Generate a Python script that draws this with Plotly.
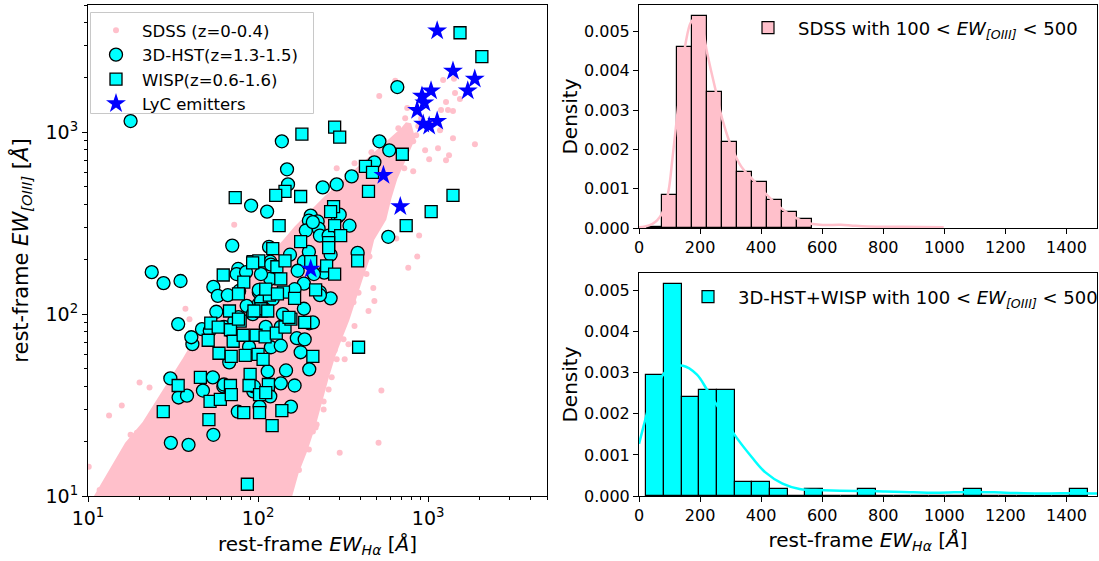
import numpy as np
import plotly.graph_objects as go

# ---------------- data ----------------
# SDSS dense-cloud outline (EW_Halpha, EW_[OIII]) in Angstrom
sdss_env_x = [11.0, 12.6, 14.4, 17.1, 21.5, 25.6, 30.2, 36.9, 42.3, 48.3, 55.3, 67.7, 82.8, 98.6,
              116, 142, 169, 204, 253, 318, 390, 476, 583, 714, 764, 805, 714, 633, 583, 546,
              464, 434, 395, 364, 331, 302, 275, 250, 231, 210, 188, 167, 150]
sdss_env_y = [9.5, 11.9, 14.8, 19.2, 24.7, 31.8, 41.0, 54.9, 68.2, 82.6, 100, 121, 146, 173,
              201, 244, 295, 357, 432, 522, 617, 736, 869, 1026, 1107, 927, 718, 557, 432, 335,
              260, 201, 156, 121, 93.8, 75.5, 60.1, 44.9, 33.9, 24.7, 18.0, 13.6, 9.5]
# SDSS individual (sparser) galaxies
sdss_x = [1225, 1419, 1439, 1538, 1274, 1191, 1309, 1400, 1175, 1400,
          1884, 1327, 1274, 1014, 960, 668, 753, 516, 641, 733,
          695, 817, 851, 910, 464, 290, 369, 608, 724, 817,
          633, 875, 935, 1069, 1143, 885, 863, 764, 483, 464,
          452, 434, 379, 345, 390, 476, 483, 364, 446, 369,
          282, 531, 511, 302, 221, 218, 210, 154, 140, 204,
          72.4, 37.4, 39.5, 46.4, 20.1, 23.0, 15.8, 13.3, 10.1, 17.8,
          19.4, 650, 340, 323, 260, 243, 15.4, 11.7, 18.8,
          23.0, 28.2, 34.5, 40.5, 174, 199, 221, 243, 271, 290, 318]
sdss_y = [1936, 1963, 1641, 1521, 1466, 1324, 1324, 1306, 1026, 927,
          859, 746, 700, 709, 796, 1052, 1358, 1581, 1914, 1194,
          927, 891, 962, 1194, 776, 633, 674, 674, 633, 609,
          609, 1079, 1393, 1122, 816, 270, 207, 180, 306, 266,
          207, 166, 146, 145, 131, 139, 118, 116, 104, 85.9,
          63.2, 38.0, 19.6, 17.3, 31.0, 23.8, 22.6, 12.1, 10.8, 22.9,
          310, 107, 93.8, 56.4, 42.1, 39.5, 31.4, 27.7, 14.5, 21.7,
          22.3, 260, 68.2, 56.4, 38.5, 29.9, 13.9, 10.8, 16.9,
          20.4, 26.3, 36.1, 48.4, 13.9, 18.0, 24.7, 33.1, 44.9, 56.4, 72.8]

hst_x = [17.8, 138, 148, 659, 517, 591, 483, 355, 150, 240, 290, 583, 385, 91, 113, 204, 199, 224,
         294, 345, 191, 227, 231, 260, 267, 70.5, 116, 154, 118, 76.4, 186, 23.7, 27.8, 35, 74.8,
         119, 118, 54.6, 58, 66.4, 77.4, 101, 101, 85.7, 93, 56.8, 76.7, 68.8, 46.8, 33.9, 41.1,
         67.7, 119, 136, 88.5, 169, 188, 200, 186, 178, 200, 140, 160, 186, 267, 245, 231, 30.5,
         34.1, 38.2, 54.2, 47.4, 62.5, 54.6, 30.7, 39, 76, 102, 118, 136, 164, 156, 93.7, 101,
         302, 231, 210, 85, 104, 104, 122, 164, 171, 199, 213, 52, 63, 72.4, 111, 136, 210, 40.5,
         63, 94.6, 114, 146]
hst_y = [1151, 891, 625, 1770, 891, 795, 683, 571, 516, 497, 516, 266, 217, 395, 366, 348, 326, 323,
         343, 306, 288, 295, 270, 270, 212, 238, 234, 212, 194, 177, 194, 170, 148, 152, 166,
         187, 156, 141, 126, 127, 134, 132, 114, 111, 100, 103, 96.3, 80.6, 82.6, 88.1, 68.3,
         54.3, 65.7, 67, 66, 73.7, 72.6, 89, 107, 61.7, 49.7, 100, 132, 147, 122, 169, 132, 44.3,
         34.8, 35.6, 44.9, 38.0, 40, 21.7, 19.6, 19.1, 29.1, 31, 35.3, 41.6, 40.5, 31, 37.6, 136,
         352, 127, 320, 170, 166, 118, 121, 137, 173, 220, 166, 81, 85, 91.5, 85, 85, 90, 74.6,
         41, 40, 48.4, 49]

wisp_x = [181, 1540, 2070, 282, 302, 705, 428, 471, 144, 127, 178, 73.4, 446, 1400, 1042, 743, 385,
          133, 278, 267, 282, 306, 178, 260, 260, 253, 122, 93.5, 101, 129, 144, 204, 62.4, 82.4,
          92.9, 136, 76.7, 116.5, 141, 105, 67.9, 78.5, 68.8, 52.7, 58.3, 50.9, 71.4, 58.9, 69.5,
          84, 100, 107, 97.3, 81.7, 110, 128, 144, 156, 188, 210, 164, 218, 282, 390, 33.9, 45.8,
          52.2, 60, 68.8, 69.6, 51.4, 27.7, 82.4, 89.8, 88.5, 102, 102, 115, 111, 138, 121, 86.5,
          104, 111, 130, 114, 152, 76.7, 94.6]
wisp_y = [975, 3520, 2600, 1066, 938, 756, 649, 601, 472, 449, 443, 437, 472, 449, 366, 306, 196,
          306, 390, 366, 306, 270, 250, 247, 232, 184, 229, 194, 196, 182, 196, 194, 164, 150,
          191, 156, 129, 127, 132, 104, 104, 91.5, 82, 89.2, 84.7, 71.8, 70.9, 60.9, 58.6,
          59.3, 60, 56.4, 76.5, 76.5, 75, 78.5, 84.7, 93.8, 90, 58.6, 122, 136, 166, 65.7, 40.5, 44.9,
          33.1, 34, 40.5, 36.1, 26.3, 29.1, 28.7, 46.6, 40.5, 36.1, 28.7, 41, 37, 29.5, 24.4, 11.6,
          107, 137, 129, 104, 96, 93.8, 104]

lyc_x = [1130, 1400, 1880, 1710, 1040, 920, 950, 862, 935, 1014, 1130, 546, 686, 204]
lyc_y = [3610, 2170, 1960, 1690, 1690, 1580, 1450, 1320, 1110, 1080, 1150, 579, 390, 177]

# histogram of SDSS EW_Halpha (density)
sdss_bin_edges = [27.4, 76.3, 125.2, 174.1, 223.0, 271.9, 320.8, 369.7, 418.6, 467.5, 516.4, 565.3]
sdss_density = [0.00003, 0.00084, 0.0046, 0.0054, 0.00347, 0.00219, 0.00143, 0.00118, 0.00072,
                0.0004, 0.00023]
sdss_kde_x = [0, 20, 43, 60, 76, 90, 99, 110, 127, 140, 155, 168, 178, 190, 200, 210, 222, 236, 251,
              265, 279, 301, 335, 369, 413, 458, 503, 548, 593, 661, 700, 750, 863, 998]
sdss_kde_y = [0.00002, 0.00004, 0.0001, 0.0002, 0.00038, 0.0007, 0.00105, 0.0018, 0.0030, 0.0040,
              0.0048, 0.0052, 0.0053, 0.0053, 0.0052, 0.0050, 0.0045, 0.0040, 0.0035, 0.0030, 0.0026,
              0.0021, 0.00156, 0.00126, 0.00089, 0.00055, 0.0003, 0.00014, 0.00008, 0.00008,
              0.00006, 0.00004, 0.00003, 0.00002]

# histogram of 3D-HST+WISP EW_Halpha (density)
hz_bin_edges = [23.6, 81.45, 139.3, 197.15, 255.0, 312.85, 370.7, 428.55, 486.4, 544.25, 602.1,
                659.95, 717.8, 775.65, 833.5, 891.35, 949.2, 1007.05, 1064.9, 1122.75, 1180.6,
                1238.45, 1296.3, 1354.15, 1412.0, 1469.85]
hz_density = [0.00294, 0.00517, 0.00242, 0.00259, 0.00259, 0.000346, 0.000346, 0.000173, 0.0,
              0.000173, 0.0, 0.0, 0.000173, 0.0, 0.0, 0.0, 0.0, 0.0, 0.000173, 0.0, 0.0, 0.0, 0.0,
              0.0, 0.000173]
hz_kde_x = [0, 15, 37, 65, 99, 144, 189, 222, 256, 312, 369, 413, 470, 526, 604, 717, 750, 800, 863,
            975, 1088, 1200, 1312, 1440, 1500]
hz_kde_y = [0.00127, 0.0017, 0.0023, 0.0028, 0.0031, 0.00317, 0.00296, 0.0026, 0.0022, 0.0015,
            0.00095, 0.00058, 0.0003, 0.00017, 0.00014, 0.00012, 0.00012, 0.00011, 0.0001, 0.00008,
            0.0001, 0.00008, 0.00006, 0.00007, 0.00006]

xticks_log = [10, 100, 1000]
xticks_log_text = ["10<sup>1</sup>", "10<sup>2</sup>", "10<sup>3</sup>"]
hist_xticks = [0, 200, 400, 600, 800, 1000, 1200, 1400]
hist_yticks = [0.0, 0.001, 0.002, 0.003, 0.004, 0.005]

# ---------------- figure ----------------
PINK = "#FFC0CB"
CYAN = "#00FFFF"
FONT = "DejaVu Sans"

fig = go.Figure()

fig.add_trace(go.Scatter(x=sdss_env_x, y=sdss_env_y, mode="lines", fill="toself",
                         fillcolor=PINK, line=dict(color=PINK, width=6), hoverinfo="skip",
                         showlegend=False, xaxis="x", yaxis="y"))
fig.add_trace(go.Scatter(x=sdss_x, y=sdss_y, mode="markers", name="SDSS (z=0-0.4)",
                         marker=dict(color=PINK, size=6, line=dict(width=0)),
                         xaxis="x", yaxis="y", legend="legend"))
fig.add_trace(go.Scatter(x=hst_x, y=hst_y, mode="markers", name="3D-HST(z=1.3-1.5)",
                         marker=dict(color=CYAN, size=13, symbol="circle",
                                     line=dict(color="black", width=1.3)),
                         xaxis="x", yaxis="y", legend="legend"))
fig.add_trace(go.Scatter(x=wisp_x, y=wisp_y, mode="markers", name="WISP(z=0.6-1.6)",
                         marker=dict(color=CYAN, size=12, symbol="square",
                                     line=dict(color="black", width=1.3)),
                         xaxis="x", yaxis="y", legend="legend"))
fig.add_trace(go.Scatter(x=lyc_x, y=lyc_y, mode="markers", name="LyC emitters",
                         marker=dict(color="blue", size=15, symbol="star", line=dict(width=0)),
                         xaxis="x", yaxis="y", legend="legend"))

# top histogram
se = np.array(sdss_bin_edges)
fig.add_trace(go.Bar(x=(se[:-1] + se[1:]) / 2, y=sdss_density, width=np.diff(se),
                     marker=dict(color=PINK, line=dict(color="black", width=1.2)),
                     name="SDSS with 100 &lt; <i>EW</i><sub><i>[OIII]</i></sub> &lt; 500",
                     xaxis="x2", yaxis="y2", legend="legend2"))
fig.add_trace(go.Scatter(x=sdss_kde_x, y=sdss_kde_y, mode="lines", line=dict(color=PINK, width=2.5),
                         line_shape="spline", showlegend=False, xaxis="x2", yaxis="y2"))

# bottom histogram
he = np.array(hz_bin_edges)
fig.add_trace(go.Bar(x=(he[:-1] + he[1:]) / 2, y=hz_density, width=np.diff(he),
                     marker=dict(color=CYAN, line=dict(color="black", width=1.2)),
                     name="3D-HST+WISP with 100 &lt; <i>EW</i><sub><i>[OIII]</i></sub> &lt; 500",
                     xaxis="x3", yaxis="y3", legend="legend3"))
fig.add_trace(go.Scatter(x=hz_kde_x, y=hz_kde_y, mode="lines", line=dict(color=CYAN, width=2.5),
                         line_shape="spline", showlegend=False, xaxis="x3", yaxis="y3"))

common = dict(showline=True, linecolor="black", linewidth=1, mirror=True, ticks="outside",
              ticklen=5, tickwidth=1, tickcolor="black", showgrid=False, zeroline=False,
              automargin=False)

W, H = 1099, 561
lx0, lx1 = 88 / W, 547 / W
rx0, rx1 = 639 / W, 1097 / W
yb, yt = (H - 496) / H, (H - 5) / H
th_b = (H - 228) / H
bh_t = (H - 273) / H

xt_title = "rest-frame <i>EW</i><sub><i>Hα</i></sub> [<i>Å</i>]"

# legend frame of the scatter panel (matplotlib-like box), on half-pixel edges for a crisp line
fig.add_shape(type="rect", xref="paper", yref="paper",
              x0=90.5 / W, x1=313.5 / W, y0=(H - 113.5) / H, y1=(H - 12.5) / H,
              line=dict(color="#c8c8c8", width=1), fillcolor="rgba(255,255,255,0.8)",
              layer="above")

fig.update_layout(
    width=W, height=H, margin=dict(l=0, r=0, t=0, b=0, autoexpand=False),
    paper_bgcolor="white", plot_bgcolor="white",
    font=dict(family=FONT, size=16, color="black"),
    showlegend=True,
    xaxis=dict(domain=[lx0, lx1], type="log", range=[1, np.log10(5000)], anchor="y",
               tickvals=xticks_log, ticktext=xticks_log_text, tickfont=dict(size=19),
               minor=dict(ticks="outside", ticklen=3, tickcolor="black", dtick="D1", showgrid=False),
               title=dict(text=xt_title, font=dict(size=20), standoff=9), **common),
    yaxis=dict(domain=[yb, yt], type="log", range=[1, np.log10(5000)], anchor="x",
               tickvals=xticks_log, ticktext=xticks_log_text, tickfont=dict(size=19),
               minor=dict(ticks="outside", ticklen=3, tickcolor="black", dtick="D1", showgrid=False),
               title=dict(text="rest-frame <i>EW</i><sub><i>[OIII]</i></sub> [<i>Å</i>]",
                          font=dict(size=21), standoff=11), **common),
    xaxis2=dict(domain=[rx0, rx1], range=[0, 1500], anchor="y2", tickvals=hist_xticks,
                tickfont=dict(size=16), **common),
    yaxis2=dict(domain=[th_b, yt], range=[0, 0.00567], anchor="x2", tickvals=hist_yticks,
                tickformat=".3f", tickfont=dict(size=16),
                title=dict(text="Density", font=dict(size=20), standoff=0), **common),
    xaxis3=dict(domain=[rx0, rx1], range=[0, 1500], anchor="y3", tickvals=hist_xticks,
                tickfont=dict(size=16),
                title=dict(text=xt_title, font=dict(size=20), standoff=8), **common),
    yaxis3=dict(domain=[yb, bh_t], range=[0, 0.00543], anchor="x3", tickvals=hist_yticks,
                tickformat=".3f", tickfont=dict(size=16),
                title=dict(text="Density", font=dict(size=20), standoff=0), **common),
    legend=dict(x=90 / W, y=(H - 13) / H, xanchor="left", yanchor="top",
                bgcolor="rgba(0,0,0,0)", borderwidth=0,
                font=dict(size=16.5), tracegroupgap=0, itemwidth=42),
    legend2=dict(x=738 / W, y=(H - 28) / H, xanchor="left", yanchor="middle",
                 bgcolor="rgba(0,0,0,0)", borderwidth=0, font=dict(size=18), itemwidth=50),
    legend3=dict(x=678 / W, y=(H - 297) / H, xanchor="left", yanchor="middle",
                 bgcolor="rgba(0,0,0,0)", borderwidth=0, font=dict(size=18), itemwidth=50),
    bargap=0,
)

fig.write_html("out.html", config={"displayModeBar": False},
               post_script="document.body.style.margin='0px';")
